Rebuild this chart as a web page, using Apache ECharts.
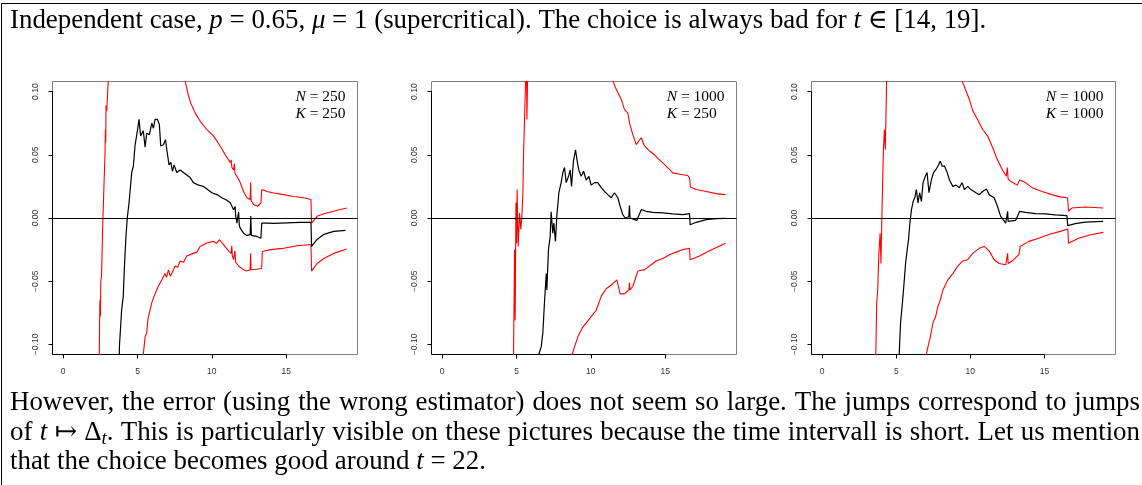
<!DOCTYPE html>
<html>
<head>
<meta charset="utf-8">
<title>Independent case, p = 0.65</title>
<script src="https://cdn.jsdelivr.net/npm/echarts@6/dist/echarts.min.js"></script>
<style>
  html, body { margin: 0; padding: 0; background: #fff; }
  #main { width: 1142px; height: 485px; }
</style>
</head>
<body>
<div id="main"></div>
<script>
// ---- values (t, error) ----
const xTicks = [0, 5, 10, 15];
const yTicks = [-0.1, -0.05, 0, 0.05, 0.1];
const panelLabels = [
  ['_N_ = 250', '_K_ = 250'],
  ['_N_ = 1000', '_K_ = 250'],
  ['_N_ = 1000', '_K_ = 1000']
];

// panel 1 : N = 250, K = 250
const p1Mean = [[3.70,-0.30],[3.78,-0.102],[3.93,-0.073],[4.04,-0.062],[4.11,-0.041],[4.22,-0.015],[4.31,0],[4.43,0.012],[4.61,0.036],[4.72,0.041],[4.83,0.057],[4.99,0.069],[5.10,0.078],[5.21,0.065],[5.39,0.069],[5.51,0.056],[5.62,0.067],[5.80,0.066],[5.96,0.075],[6.07,0.071],[6.18,0.078],[6.34,0.078],[6.47,0.074],[6.56,0.057],[6.74,0.058],[6.88,0.062],[6.97,0.054],[7.12,0.042],[7.24,0.044],[7.35,0.037],[7.46,0.042],[7.64,0.036],[7.87,0.038],[8.09,0.036],[8.31,0.034],[8.54,0.032],[8.76,0.028],[9.10,0.026],[9.44,0.025],[9.78,0.022],[10.0,0.020],[10.34,0.0185],[10.67,0.016],[11.01,0.014],[11.24,0.012],[11.46,0.0066],[11.57,0.009],[11.60,0.002],[11.69,-0.004],[11.80,0.005],[11.85,-0.006],[11.91,-0.008],[12.13,-0.012],[12.36,-0.0138],[12.58,-0.0132],[12.62,0.0015],[12.66,-0.0138],[13.03,-0.0146],[13.30,-0.016],[13.36,-0.004],[13.71,-0.004],[14.16,-0.0042],[15.06,-0.0038],[15.96,-0.0035],[16.67,-0.0035],[16.71,-0.0225],[17.08,-0.017],[17.53,-0.013],[18.2,-0.0106],[18.99,-0.0098]];
const p1Upper = [[2.30,-0.30],[2.43,-0.108],[2.45,-0.08],[2.47,-0.065],[2.50,-0.078],[2.53,-0.05],[2.58,-0.046],[2.65,-0.009],[2.74,0.025],[2.81,0.049],[2.84,0.07],[2.86,0.06],[2.88,0.089],[2.93,0.085],[3.03,0.1085],[3.15,0.30],[8.05,0.25],[8.20,0.1085],[8.43,0.0966],[8.58,0.091],[8.88,0.083],[9.21,0.0767],[9.66,0.070],[10.11,0.065],[10.56,0.057],[10.90,0.050],[11.24,0.044],[11.30,0.046],[11.35,0.040],[11.46,0.038],[11.52,0.043],[11.56,0.035],[11.69,0.033],[11.91,0.028],[12.13,0.021],[12.36,0.016],[12.58,0.0146],[12.61,0.028],[12.64,0.014],[12.81,0.0106],[13.08,0.0093],[13.30,0.012],[13.36,0.0225],[13.71,0.021],[14.16,0.0198],[14.83,0.0185],[15.51,0.017],[16.18,0.016],[16.67,0.0146],[16.71,-0.004],[17.08,0.0013],[17.53,0.0034],[18.2,0.0053],[19.06,0.0079]];
const p1Lower = [[5.30,-0.30],[5.39,-0.108],[5.51,-0.094],[5.62,-0.091],[5.70,-0.080],[5.80,-0.075],[5.96,-0.067],[6.18,-0.060],[6.40,-0.054],[6.63,-0.049],[6.85,-0.044],[6.95,-0.047],[7.08,-0.041],[7.20,-0.046],[7.30,-0.044],[7.53,-0.038],[7.70,-0.039],[7.87,-0.034],[8.10,-0.035],[8.31,-0.030],[8.76,-0.028],[9.00,-0.027],[9.21,-0.0225],[9.66,-0.0198],[10.11,-0.0185],[10.30,-0.020],[10.52,-0.0172],[10.79,-0.021],[11.12,-0.026],[11.30,-0.028],[11.34,-0.022],[11.38,-0.030],[11.46,-0.033],[11.55,-0.026],[11.60,-0.035],[11.80,-0.038],[12.13,-0.041],[12.36,-0.042],[12.58,-0.041],[12.61,-0.028],[12.64,-0.041],[13.03,-0.0405],[13.35,-0.040],[13.40,-0.0265],[13.93,-0.025],[14.83,-0.024],[15.73,-0.022],[16.67,-0.021],[16.71,-0.042],[17.08,-0.036],[17.53,-0.032],[18.2,-0.028],[19.06,-0.0246]];

// panel 2 : N = 1000, K = 250
const p2Mean = [[6.40,-0.30],[6.50,-0.108],[6.66,-0.102],[6.77,-0.091],[6.88,-0.067],[7.00,-0.044],[7.04,-0.057],[7.15,-0.025],[7.26,-0.015],[7.33,0.005],[7.44,-0.012],[7.51,-0.004],[7.62,-0.0185],[7.71,0.0013],[7.85,0.020],[8.00,0.028],[8.12,0.036],[8.23,0.040],[8.34,0.028],[8.50,0.033],[8.61,0.038],[8.70,0.025],[8.83,0.045],[8.97,0.054],[9.08,0.045],[9.19,0.038],[9.35,0.033],[9.51,0.037],[9.69,0.030],[9.87,0.033],[10.02,0.026],[10.25,0.028],[10.47,0.028],[10.70,0.024],[10.92,0.021],[11.14,0.0185],[11.37,0.016],[11.59,0.020],[11.82,0.016],[11.97,0.0093],[12.15,0.0026],[12.31,0],[12.55,0.001],[12.60,0.0098],[12.64,0],[13.09,-0.0019],[13.39,0.0066],[13.72,0.0053],[14.17,0.0045],[14.84,0.004],[15.52,0.0032],[16.19,0.0026],[16.64,0.0034],[16.68,-0.0053],[17.09,-0.0034],[17.76,-0.0013],[18.43,-0.0005],[19.06,-0.0003]];
const p2Upper = [[4.75,-0.30],[4.80,-0.108],[4.87,-0.025],[4.91,-0.081],[4.96,0.012],[5.00,-0.020],[5.04,0.0225],[5.11,-0.0225],[5.20,0.004],[5.29,-0.009],[5.36,0.0013],[5.43,0.020],[5.47,0.049],[5.54,0.078],[5.61,0.1085],[5.66,0.13],[5.70,0.078],[5.74,0.1085],[5.80,0.30],[11.40,0.25],[11.48,0.1085],[11.70,0.102],[12.04,0.094],[12.26,0.086],[12.49,0.083],[12.60,0.075],[12.83,0.066],[13.05,0.058],[13.39,0.0635],[13.61,0.057],[13.95,0.053],[14.28,0.050],[14.62,0.046],[15.07,0.041],[15.52,0.0357],[16.08,0.0344],[16.52,0.0336],[16.64,0.0317],[16.70,0.0246],[17.09,0.0225],[17.76,0.021],[18.43,0.0193],[19.06,0.0185]];
const p2Lower = [[8.65,-0.30],[8.74,-0.108],[8.90,-0.102],[9.13,-0.094],[9.42,-0.087],[9.69,-0.083],[10.02,-0.078],[10.36,-0.073],[10.70,-0.062],[11.03,-0.056],[11.48,-0.052],[11.75,-0.049],[11.97,-0.060],[12.26,-0.060],[12.56,-0.057],[12.60,-0.051],[12.63,-0.057],[12.83,-0.054],[13.16,-0.042],[13.61,-0.041],[13.95,-0.038],[14.39,-0.034],[14.84,-0.032],[15.29,-0.029],[15.74,-0.027],[16.19,-0.025],[16.64,-0.024],[16.68,-0.033],[17.31,-0.030],[17.98,-0.026],[19.06,-0.020]];

// panel 3 : N = 1000, K = 1000
const p3Mean = [[5.10,-0.30],[5.20,-0.108],[5.29,-0.083],[5.42,-0.067],[5.51,-0.054],[5.63,-0.036],[5.74,-0.025],[5.83,-0.017],[5.92,-0.004],[6.03,0.0066],[6.14,0.013],[6.25,0.016],[6.36,0.0225],[6.47,0.012],[6.58,0.020],[6.70,0.013],[6.81,0.028],[6.96,0.033],[7.08,0.036],[7.21,0.020],[7.37,0.030],[7.52,0.036],[7.66,0.038],[7.81,0.041],[7.97,0.045],[8.10,0.041],[8.26,0.041],[8.44,0.036],[8.59,0.030],[8.82,0.025],[9.04,0.026],[9.26,0.024],[9.44,0.028],[9.60,0.0225],[9.82,0.025],[10.04,0.0225],[10.38,0.020],[10.60,0.0185],[10.83,0.021],[11.09,0.023],[11.27,0.0185],[11.61,0.016],[11.83,0.0093],[12.05,0.0013],[12.39,-0.004],[12.50,-0.003],[12.52,0.0053],[12.55,-0.0026],[13.06,-0.0019],[13.33,0.0053],[13.73,0.0045],[14.40,0.0034],[15.07,0.0032],[15.74,0.0024],[16.52,0.0019],[16.58,-0.006],[17.08,-0.0045],[17.75,-0.0032],[18.97,-0.0026]];
const p3Upper = [[3.55,-0.30],[3.62,-0.108],[3.68,-0.067],[3.75,-0.057],[3.82,-0.030],[3.91,-0.012],[3.97,-0.036],[4.04,0.0066],[4.13,0.052],[4.20,0.070],[4.26,0.054],[4.31,0.083],[4.35,0.1085],[4.45,0.30],[9.35,0.25],[9.44,0.1085],[9.71,0.1005],[9.93,0.094],[10.16,0.085],[10.49,0.078],[10.83,0.070],[11.16,0.065],[11.50,0.056],[11.83,0.046],[12.17,0.038],[12.43,0.033],[12.50,0.040],[12.55,0.031],[12.72,0.029],[13.17,0.026],[13.33,0.030],[13.73,0.028],[14.17,0.024],[14.84,0.021],[15.51,0.0185],[16.07,0.0167],[16.56,0.016],[16.63,0.0053],[16.85,0.0079],[17.75,0.0087],[18.97,0.0079]];
const p3Lower = [[6.95,-0.30],[7.03,-0.108],[7.14,-0.102],[7.30,-0.094],[7.48,-0.083],[7.66,-0.078],[7.81,-0.070],[7.97,-0.065],[8.15,-0.057],[8.48,-0.049],[8.82,-0.044],[9.15,-0.038],[9.49,-0.034],[9.82,-0.033],[10.16,-0.028],[10.60,-0.024],[10.94,-0.0225],[11.27,-0.026],[11.61,-0.033],[11.94,-0.036],[12.39,-0.037],[12.50,-0.036],[12.52,-0.028],[12.55,-0.036],[12.83,-0.034],[13.28,-0.029],[13.37,-0.0225],[13.95,-0.0185],[14.62,-0.016],[15.29,-0.013],[16.07,-0.0106],[16.58,-0.0087],[16.63,-0.020],[17.30,-0.016],[18.19,-0.013],[18.97,-0.0114]];

// prose around the figure; _x_ = italic, ~x~ = italic subscript
const headerLine = 'Independent case, _p_ = 0.65, _μ_ = 1 (supercritical). The choice is always bad for _t_ ∈ [14, 19].';
const footerLines = [
  'However, the error (using the wrong estimator) does not seem so large. The jumps correspond to jumps',
  'of _t_ ↦ Δ~t~. This is particularly visible on these pictures because the time intervall is short. Let us mention',
  'that the choice becomes good around _t_ = 22.'
];

const X_MIN = -0.72, X_MAX = 19.8, Y_MIN = -0.108, Y_MAX = 0.108;
const SERIF = '"Liberation Serif", "DejaVu Serif", serif';
const SANS = '"Liberation Sans", Arial, sans-serif';
const grids = [
  {left: 52.5, top: 81.5, width: 305, height: 273},
  {left: 431.5, top: 81.5, width: 305, height: 273},
  {left: 811.5, top: 81.5, width: 304, height: 273}
];
const panels = [[p1Mean, p1Upper, p1Lower], [p2Mean, p2Upper, p2Lower], [p3Mean, p3Upper, p3Lower]];

// text measuring, same canvas metrics zrender uses
const ctx = document.createElement('canvas').getContext('2d');
function parseWords(line) {
  return line.split(' ').map(w => w.split(/(_[^_]+_|~[^~]+~)/).filter(Boolean).map(p =>
    p[0] === '_' ? {t: p.slice(1, -1), s: 'i'} : p[0] === '~' ? {t: p.slice(1, -1), s: 'b'} : {t: p, s: 'n'}));
}
function segWidth(seg, size) {
  ctx.font = (seg.s === 'n' ? '' : 'italic ') + (seg.s === 'b' ? size * 0.7 : size) + 'px ' + SERIF;
  return ctx.measureText(seg.t).width;
}
function wordWidth(w, size) { return w.reduce((a, s) => a + segWidth(s, size), 0); }
function spaceWidth(size) { ctx.font = size + 'px ' + SERIF; return ctx.measureText(' ').width; }
function lineWidth(line, size) {
  const words = parseWords(line);
  return words.reduce((a, w) => a + wordWidth(w, size), 0) + spaceWidth(size) * (words.length - 1);
}

// one rich text per line; gaps widened when the line is justified
function proseLine(line, x, baseline, size, justifyTo) {
  const words = parseWords(line);
  const total = words.reduce((a, w) => a + wordWidth(w, size), 0);
  const gap = justifyTo ? (justifyTo - total) / (words.length - 1) : spaceWidth(size);
  const lh = Math.round(size * 1.2);
  const text = words.map(w => w.map(s => '{' + s.s + '|' + s.t + '}').join('')).join('{g| }');
  return {
    type: 'text', x: x, y: baseline - 0.34 * size, silent: true,
    style: {
      text: text, align: 'left', verticalAlign: 'middle', fill: '#000',
      fontSize: size, fontFamily: SERIF, lineHeight: lh,
      rich: {
        n: {fontSize: size, fontFamily: SERIF, fill: '#000', lineHeight: lh},
        i: {fontSize: size, fontFamily: SERIF, fontStyle: 'italic', fill: '#000', lineHeight: lh},
        b: {fontSize: size * 0.7, fontFamily: SERIF, fontStyle: 'italic', fill: '#000', verticalAlign: 'bottom'},
        g: {fontSize: size, fontFamily: SERIF, width: gap, lineHeight: lh}
      }
    }
  };
}

const chart = echarts.init(document.getElementById('main'));

const series = [];
panels.forEach((p, i) => {
  series.push({
    type: 'line', xAxisIndex: i, yAxisIndex: i, data: p[0], showSymbol: false, symbol: 'none',
    clip: true, lineStyle: {color: '#000', width: 1.2}, z: 3,
    markLine: {
      silent: true, symbol: ['none', 'none'], label: {show: false},
      lineStyle: {color: '#000', width: 1, type: 'solid'},
      data: [{yAxis: 0}]
    }
  });
  [p[1], p[2]].forEach(d => series.push({
    type: 'line', xAxisIndex: i, yAxisIndex: i, data: d, showSymbol: false, symbol: 'none',
    clip: true, lineStyle: {color: '#ff0000', width: 1.1}, z: 2
  }));
});

chart.setOption({
  backgroundColor: '#fff',
  animation: false,
  grid: grids.map(g => Object.assign({show: true, borderColor: '#808080', borderWidth: 1, backgroundColor: 'transparent'}, g)),
  xAxis: grids.map((g, i) => ({
    type: 'value', gridIndex: i, min: X_MIN, max: X_MAX,
    axisLine: {show: false, onZero: false}, splitLine: {show: false},
    axisTick: {show: true, length: 4, customValues: xTicks, lineStyle: {color: '#000', width: 1}},
    axisLabel: {customValues: xTicks, fontSize: 8.5, fontFamily: SANS, color: '#333', margin: 13}
  })),
  yAxis: grids.map((g, i) => ({
    type: 'value', gridIndex: i, min: Y_MIN, max: Y_MAX,
    axisLine: {show: false, onZero: false}, splitLine: {show: false},
    axisTick: {show: true, length: 4, customValues: yTicks, lineStyle: {color: '#000', width: 1}},
    axisLabel: {
      customValues: yTicks, rotate: 90, fontSize: 8.5, fontFamily: SANS, color: '#333', margin: 12,
      formatter: v => (v < 0 ? '\u2212' : '') + Math.abs(v).toFixed(2)
    }
  })),
  series: series
});

// graphic layer: page border, black axis segments, texts
const gfx = [];
gfx.push({type: 'rect', silent: true, shape: {x: 1.5, y: 3.5, width: 1400, height: 700},
  style: {fill: 'none', stroke: '#000', lineWidth: 1}});

grids.forEach((g, i) => {
  const a = chart.convertToPixel({gridIndex: i}, [xTicks[0], Y_MIN]);
  const b = chart.convertToPixel({gridIndex: i}, [xTicks[xTicks.length - 1], Y_MIN]);
  const c = chart.convertToPixel({gridIndex: i}, [X_MIN, yTicks[0]]);
  const d = chart.convertToPixel({gridIndex: i}, [X_MIN, yTicks[yTicks.length - 1]]);
  gfx.push({type: 'line', silent: true, shape: {x1: g.left, y1: a[1], x2: b[0], y2: b[1]}, style: {stroke: '#000', lineWidth: 1}});
  gfx.push({type: 'line', silent: true, shape: {x1: c[0], y1: g.top + g.height, x2: d[0], y2: d[1]}, style: {stroke: '#000', lineWidth: 1}});

  const labSize = 15.5;
  const w = Math.max(lineWidth(panelLabels[i][0], labSize), lineWidth(panelLabels[i][1], labSize));
  const lx = g.left + g.width - 12 - w;
  gfx.push(proseLine(panelLabels[i][0], lx, 102, labSize));
  gfx.push(proseLine(panelLabels[i][1], lx, 119, labSize));
});

const textSize = Math.round(100 * 975 / lineWidth(headerLine, 100) * 10) / 10;
gfx.push(proseLine(headerLine, 10, 30, textSize));
gfx.push(proseLine(footerLines[0], 10, 412, textSize, 1130));
gfx.push(proseLine(footerLines[1], 10, 442, textSize, 1130));
gfx.push(proseLine(footerLines[2], 10, 471, textSize));

chart.setOption({graphic: {elements: gfx}});
</script>
</body>
</html>
